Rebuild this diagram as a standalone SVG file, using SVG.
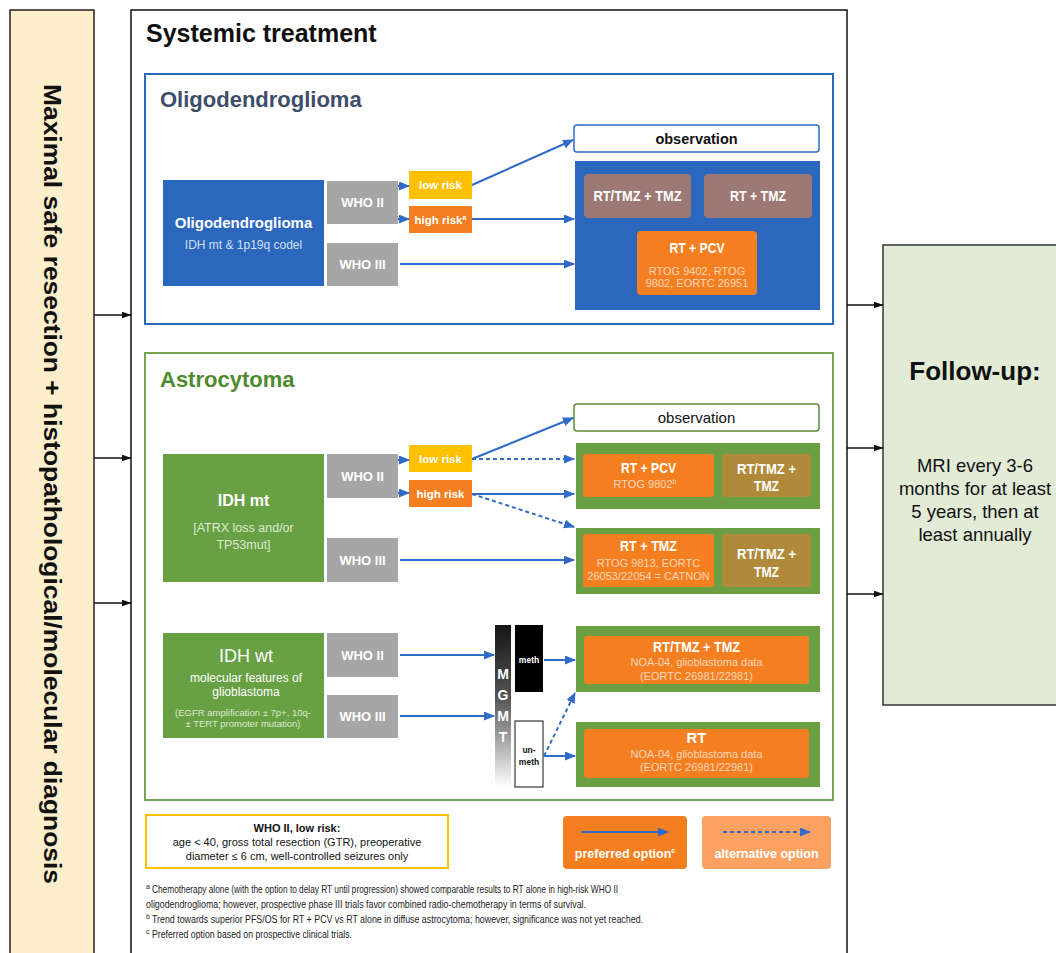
<svg xmlns="http://www.w3.org/2000/svg" width="1056" height="953" viewBox="0 0 1056 953">
<style>
text{font-family:"Liberation Sans",Arial,sans-serif;}
.b{font-weight:bold;}
.c{text-anchor:middle;}
.w{fill:#ffffff;}
.lt{fill:#fbd6bb;}
.who{fill:#a6a6a6;}
.blue{fill:#2b67bd;}
.grn{fill:#68a044;}
.org{fill:#f47f20;}
.yel{fill:#ffc000;}
.olv{fill:#b08a3a;}
.mauve{fill:#9c7975;}
.ln{stroke:#2f6bc7;stroke-width:2;fill:none;}
.dash{stroke-dasharray:4,3;}
.bk{stroke:#111;stroke-width:1.3;fill:none;}
</style>
<defs>
<marker id="ab" viewBox="0 0 11 9" refX="10" refY="4.5" markerWidth="11" markerHeight="9" markerUnits="userSpaceOnUse" orient="auto"><path d="M0,0 L11,4.5 L0,9 z" fill="#2f6bc7"/></marker>
<marker id="ak" viewBox="0 0 10 7" refX="9.5" refY="3.5" markerWidth="10" markerHeight="7" markerUnits="userSpaceOnUse" orient="auto"><path d="M0,0 L10,3.5 L0,7 z" fill="#111"/></marker>
<linearGradient id="mg" x1="0" y1="0" x2="0" y2="1"><stop offset="0" stop-color="#151515"/><stop offset="0.45" stop-color="#555"/><stop offset="1" stop-color="#ffffff"/></linearGradient>
</defs>
<rect width="1056" height="953" fill="#ffffff"/>

<g id="diagnosis">
<rect x="10" y="10" width="84" height="960" fill="#fdefcb" stroke="#222" stroke-width="1.5"/>
<text class="b c" transform="translate(44,484) rotate(90)" font-size="23.5" fill="#111" textLength="800" lengthAdjust="spacingAndGlyphs">Maximal safe resection + histopathological/molecular diagnosis</text>
</g>

<g id="systemic">
<rect x="131" y="10" width="716" height="960" fill="#ffffff" stroke="#111" stroke-width="1.5"/>
<text class="b" x="146" y="42" font-size="25" fill="#111">Systemic treatment</text>
</g>

<g id="followup">
<rect x="883" y="245" width="190" height="460" fill="#e2ebd6" stroke="#333" stroke-width="1.5"/>
<text class="b c" x="975" y="380" font-size="26" fill="#111">Follow-up:</text>
<text class="c" x="975" y="472" font-size="18.5" fill="#111">MRI every 3-6</text>
<text class="c" x="975" y="495" font-size="18.5" fill="#111">months for at least</text>
<text class="c" x="975" y="518" font-size="18.5" fill="#111">5 years, then at</text>
<text class="c" x="975" y="541" font-size="18.5" fill="#111">least annually</text>
</g>

<g id="oligo-section">
<rect x="145" y="74" width="688" height="250" fill="#ffffff" stroke="#2b67bd" stroke-width="2"/>
<text class="b" x="160" y="107" font-size="22" fill="#3d4d6a">Oligodendroglioma</text>
</g>

<g id="oligo-node">
<rect x="163" y="180" width="161" height="106" class="blue"/>
<text class="b c w" x="243.5" y="228" font-size="15">Oligodendroglioma</text>
<text class="c" x="243.5" y="249" font-size="12" fill="#d3e0f3">IDH mt &amp; 1p19q codel</text>
</g>
<g id="oligo-who2"><rect x="327" y="181" width="71" height="43" class="who"/><text class="b c w" x="362.5" y="207" font-size="13">WHO II</text></g>
<g id="oligo-who3"><rect x="327" y="243" width="71" height="43" class="who"/><text class="b c w" x="362.5" y="269" font-size="13">WHO III</text></g>
<g id="oligo-low"><rect x="409" y="171" width="63" height="28" class="yel"/><text class="b c w" x="440.5" y="189" font-size="11.5">low risk</text></g>
<g id="oligo-high"><rect x="409" y="206" width="63" height="27" class="org"/><text class="b c w" x="440.5" y="224" font-size="11.5">high risk<tspan font-size="7" dy="-4">a</tspan></text></g>
<g id="oligo-observation"><rect x="574" y="125" width="245" height="27" rx="3" fill="#ffffff" stroke="#2f6bc7" stroke-width="1.5"/><text class="b c" x="696.5" y="144" font-size="14.5" fill="#111">observation</text></g>
<g id="oligo-treatments">
<rect x="575" y="161" width="245" height="149" class="blue"/>
<rect x="584" y="174" width="107" height="44" rx="4" class="mauve"/>
<text class="b c w" x="637.5" y="201" font-size="15" textLength="88" lengthAdjust="spacingAndGlyphs">RT/TMZ + TMZ</text>
<rect x="704" y="174" width="108" height="44" rx="4" class="mauve"/>
<text class="b c w" x="758" y="201" font-size="15" textLength="56" lengthAdjust="spacingAndGlyphs">RT + TMZ</text>
<rect x="637" y="231" width="120" height="64" rx="4" class="org"/>
<text class="b c w" x="697" y="253" font-size="15" textLength="55" lengthAdjust="spacingAndGlyphs">RT + PCV</text>
<text class="c lt" x="697" y="275" font-size="11">RTOG 9402, RTOG</text>
<text class="c lt" x="697" y="287" font-size="11">9802, EORTC 26951</text>
</g>

<g id="astro-section">
<rect x="145" y="353" width="688" height="447" fill="#ffffff" stroke="#76a553" stroke-width="2"/>
<text class="b" x="160" y="387" font-size="22" fill="#4e8a2e">Astrocytoma</text>
</g>
<g id="idhmt-node">
<rect x="163" y="454" width="161" height="128" class="grn"/>
<text class="b c w" x="243.5" y="506" font-size="16">IDH mt</text>
<text class="c" x="243.5" y="532" font-size="12.5" fill="#dcebd0">[ATRX loss and/or</text>
<text class="c" x="243.5" y="549" font-size="12.5" fill="#dcebd0">TP53mut]</text>
</g>
<g id="astro-who2"><rect x="327" y="454" width="71" height="44" class="who"/><text class="b c w" x="362.5" y="481" font-size="13">WHO II</text></g>
<g id="astro-who3"><rect x="327" y="538" width="71" height="44" class="who"/><text class="b c w" x="362.5" y="565" font-size="13">WHO III</text></g>
<g id="astro-low"><rect x="409" y="445" width="63" height="27" class="yel"/><text class="b c w" x="440.5" y="463" font-size="11.5">low risk</text></g>
<g id="astro-high"><rect x="409" y="480" width="63" height="27" class="org"/><text class="b c w" x="440.5" y="498" font-size="11.5">high risk</text></g>
<g id="astro-observation"><rect x="574" y="404" width="245" height="27" rx="3" fill="#ffffff" stroke="#5b8c3a" stroke-width="1.5"/><text class="c" x="696.5" y="423" font-size="15" fill="#111">observation</text></g>
<g id="astro-treatments-1">
<rect x="576" y="443" width="244" height="66" fill="#6a9f43"/>
<rect x="583" y="454" width="131" height="43" rx="3" class="org"/>
<text class="b c w" x="648.5" y="473" font-size="15" textLength="55" lengthAdjust="spacingAndGlyphs">RT + PCV</text>
<text class="c lt" x="645" y="488" font-size="11">RTOG 9802<tspan font-size="7" dy="-4">b</tspan></text>
<rect x="722" y="454" width="89" height="43" rx="3" class="olv"/>
<text class="b c w" x="766.5" y="474" font-size="15" textLength="59" lengthAdjust="spacingAndGlyphs">RT/TMZ +</text>
<text class="b c w" x="766.5" y="491" font-size="15" textLength="25" lengthAdjust="spacingAndGlyphs">TMZ</text>
</g>
<g id="astro-treatments-2">
<rect x="576" y="528" width="244" height="66" fill="#6a9f43"/>
<rect x="583" y="534" width="131" height="53" rx="3" class="org"/>
<text class="b c w" x="648.5" y="551" font-size="15" textLength="57" lengthAdjust="spacingAndGlyphs">RT + TMZ</text>
<text class="c lt" x="648.5" y="567" font-size="11">RTOG 9813, EORTC</text>
<text class="c lt" x="648.5" y="580" font-size="11">26053/22054 = CATNON</text>
<rect x="722" y="534" width="89" height="53" rx="3" class="olv"/>
<text class="b c w" x="766.5" y="559" font-size="15" textLength="59" lengthAdjust="spacingAndGlyphs">RT/TMZ +</text>
<text class="b c w" x="766.5" y="577" font-size="15" textLength="25" lengthAdjust="spacingAndGlyphs">TMZ</text>
</g>

<g id="idhwt-node">
<rect x="163" y="633" width="161" height="105" class="grn"/>
<text class="c w" x="246" y="662" font-size="18">IDH wt</text>
<text class="c w" x="246" y="682" font-size="12">molecular features of</text>
<text class="c w" x="246" y="696" font-size="12">glioblastoma</text>
<text class="c" x="243" y="716" font-size="9.5" fill="#dcebd0">(EGFR amplification ± 7p+, 10q-</text>
<text class="c" x="243" y="727" font-size="9.5" fill="#dcebd0">± TERT promoter mutation)</text>
</g>
<g id="wt-who2"><rect x="327" y="633" width="71" height="44" class="who"/><text class="b c w" x="362.5" y="660" font-size="13">WHO II</text></g>
<g id="wt-who3"><rect x="327" y="695" width="71" height="43" class="who"/><text class="b c w" x="362.5" y="721" font-size="13">WHO III</text></g>
<g id="mgmt">
<rect x="495" y="625" width="16" height="162" fill="url(#mg)"/>
<text class="b c w" x="503" y="679" font-size="14">M</text>
<text class="b c w" x="503" y="700" font-size="14">G</text>
<text class="b c w" x="503" y="721" font-size="14">M</text>
<text class="b c w" x="503" y="742" font-size="14">T</text>
</g>
<g id="meth"><rect x="515" y="625" width="28" height="67" fill="#000"/><text class="b c w" x="529" y="663" font-size="8.5">meth</text></g>
<g id="unmeth"><rect x="515" y="721" width="28" height="66" fill="#fff" stroke="#111" stroke-width="1"/><text class="b c" x="529" y="753" font-size="8.5" fill="#111">un-</text><text class="b c" x="529" y="765" font-size="8.5" fill="#111">meth</text></g>
<g id="wt-treatment-1">
<rect x="576" y="626" width="244" height="66" fill="#6a9f43"/>
<rect x="584" y="636" width="225" height="48" rx="3" class="org"/>
<text class="b c w" x="696.5" y="652" font-size="15" textLength="87" lengthAdjust="spacingAndGlyphs">RT/TMZ + TMZ</text>
<text class="c lt" x="696.5" y="666" font-size="11">NOA-04, glioblastoma data</text>
<text class="c lt" x="696.5" y="680" font-size="11">(EORTC 26981/22981)</text>
</g>
<g id="wt-treatment-2">
<rect x="576" y="722" width="244" height="65" fill="#6a9f43"/>
<rect x="584" y="729" width="225" height="49" rx="3" class="org"/>
<text class="b c w" x="696.5" y="743" font-size="15">RT</text>
<text class="c lt" x="696.5" y="758" font-size="11">NOA-04, glioblastoma data</text>
<text class="c lt" x="696.5" y="771" font-size="11">(EORTC 26981/22981)</text>
</g>

<g id="legend-lowrisk">
<rect x="146" y="815" width="302" height="53" fill="#fff" stroke="#ffc000" stroke-width="2"/>
<text class="b c" x="297" y="832" font-size="11" fill="#111">WHO II, low risk:</text>
<text class="c" x="297" y="846" font-size="11" fill="#111">age &lt; 40, gross total resection (GTR), preoperative</text>
<text class="c" x="297" y="860" font-size="11" fill="#111">diameter ≤ 6 cm, well-controlled seizures only</text>
</g>
<g id="legend-preferred">
<rect x="563" y="816" width="124" height="53" rx="4" fill="#f47f20"/>
<text class="b c w" x="625" y="858" font-size="12.5">preferred option<tspan font-size="7" dy="-5">c</tspan></text>
</g>
<g id="legend-alternative">
<rect x="702" y="816" width="129" height="53" rx="4" fill="#fba263"/>
<text class="b c w" x="766.5" y="858" font-size="12.5">alternative option</text>
</g>

<g id="footnotes" fill="#222">
<text x="146" y="889" font-size="7">a</text>
<text x="152" y="893" font-size="10.5" textLength="466" lengthAdjust="spacingAndGlyphs">Chemotherapy alone (with the option to delay RT until progression) showed comparable results to RT alone in high-risk WHO II</text>
<text x="146" y="908" font-size="10.5" textLength="440" lengthAdjust="spacingAndGlyphs">oligodendroglioma; however, prospective phase III trials favor combined radio-chemotherapy in terms of survival.</text>
<text x="146" y="919" font-size="7">b</text>
<text x="152" y="923" font-size="10.5" textLength="491" lengthAdjust="spacingAndGlyphs">Trend towards superior PFS/OS for RT + PCV vs RT alone in diffuse astrocytoma; however, significance was not yet reached.</text>
<text x="146" y="934" font-size="7">c</text>
<text x="152" y="938" font-size="10.5" textLength="200" lengthAdjust="spacingAndGlyphs">Preferred option based on prospective clinical trials.</text>
</g>

<g id="connectors">
<path class="bk" d="M94,315 H131" marker-end="url(#ak)"/>
<path class="bk" d="M94,458 H131" marker-end="url(#ak)"/>
<path class="bk" d="M94,603 H131" marker-end="url(#ak)"/>
<path class="bk" d="M847,305 H883" marker-end="url(#ak)"/>
<path class="bk" d="M847,448 H883" marker-end="url(#ak)"/>
<path class="bk" d="M847,594 H883" marker-end="url(#ak)"/>

<path class="ln" d="M398,186 H409" marker-end="url(#ab)"/>
<path class="ln" d="M398,219 H409" marker-end="url(#ab)"/>
<path class="ln" d="M472,185 L573,140" marker-end="url(#ab)"/>
<path class="ln" d="M472,219 H574" marker-end="url(#ab)"/>
<path class="ln" d="M400,264 H574" marker-end="url(#ab)"/>

<path class="ln" d="M398,460 H409" marker-end="url(#ab)"/>
<path class="ln" d="M398,493 H409" marker-end="url(#ab)"/>
<path class="ln" d="M472,459 L573,418" marker-end="url(#ab)"/>
<path class="ln dash" d="M472,459 H574" marker-end="url(#ab)"/>
<path class="ln" d="M472,494 H574" marker-end="url(#ab)"/>
<path class="ln dash" d="M472,494 L574,527" marker-end="url(#ab)"/>
<path class="ln" d="M400,560 H574" marker-end="url(#ab)"/>

<path class="ln" d="M400,655 H494" marker-end="url(#ab)"/>
<path class="ln" d="M400,716 H494" marker-end="url(#ab)"/>
<path class="ln" d="M544,660 H575" marker-end="url(#ab)"/>
<path class="ln" d="M544,756 H575" marker-end="url(#ab)"/>
<path class="ln dash" d="M544,756 L575,693" marker-end="url(#ab)"/>

<path class="ln" d="M581,832 H668" marker-end="url(#ab)"/>
<path class="ln dash" d="M723,832 H810" marker-end="url(#ab)"/>
</g>
</svg>
